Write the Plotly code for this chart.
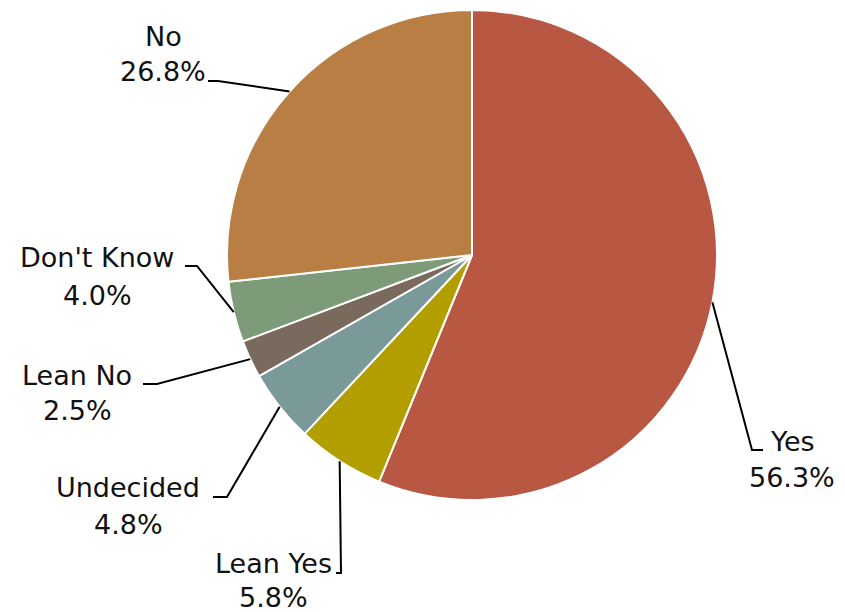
import math
import plotly.graph_objects as go

labels = ["Yes", "Lean Yes", "Undecided", "Lean No", "Don't Know", "No"]
values = [56.3, 5.8, 4.8, 2.5, 4.0, 26.8]
pct_text = ["56.3%", "5.8%", "4.8%", "2.5%", "4.0%", "26.8%"]
colors = ["#B85842", "#B39E00", "#7A9999", "#7A6A5E", "#7D9B78", "#B87E43"]

# page body has an 8px margin; lay out in window pixels and offset
OFF = 8
W, H = 845 - OFF, 612 - OFF
CX, CY, R = 472, 255, 245

# label layout (window pixels): centre x, line1 y, line2 y, elbow, end of leader
label_pos = {
    "Yes": (792, 441, 477, (752, 450), (763, 450)),
    "Lean Yes": (273, 563, 597, (341, 573), (336, 573)),
    "Undecided": (128, 487, 524, (227, 497), (213, 497)),
    "Lean No": (77, 375, 410, (157, 384), (143, 384)),
    "Don't Know": (97, 257, 295, (197, 266), (185, 266)),
    "No": (163, 36, 71, (218, 81), (208, 81)),
}

def px(x):
    return (x - OFF) / W

def py(y):
    return 1 - (y - OFF) / H

fig = go.Figure(go.Pie(
    labels=labels, values=values, sort=False, direction="clockwise", rotation=0,
    marker=dict(colors=colors, line=dict(color="white", width=2)),
    textinfo="none", hoverinfo="label+percent", showlegend=False,
    domain=dict(x=[px(CX - R), px(CX + R)], y=[py(CY + R), py(CY - R)]),
))

font = dict(family="DejaVu Sans", size=27, color="#111111")
total = sum(values)
cum = 0.0
shapes = []
annotations = []
for lab, val, pt in zip(labels, values, pct_text):
    mid = (cum + val / 2) / total * 2 * math.pi
    cum += val
    ax = CX + R * math.sin(mid)
    ay = CY - R * math.cos(mid)
    cxl, y1, y2, elbow, end = label_pos[lab]
    path = f"M {px(ax)},{py(ay)} L {px(elbow[0])},{py(elbow[1])} L {px(end[0])},{py(end[1])}"
    shapes.append(dict(type="path", xref="paper", yref="paper", path=path,
                       line=dict(color="black", width=2)))
    annotations.append(dict(x=px(cxl), y=py(y1), xref="paper", yref="paper", text=lab,
                            showarrow=False, xanchor="center", yanchor="middle", font=font))
    annotations.append(dict(x=px(cxl), y=py(y2), xref="paper", yref="paper", text=pt,
                            showarrow=False, xanchor="center", yanchor="middle", font=font))

fig.update_layout(
    width=W, height=H, margin=dict(l=0, r=0, t=0, b=0),
    paper_bgcolor="white", plot_bgcolor="white",
    shapes=shapes, annotations=annotations,
)
fig.write_html("out.html")
